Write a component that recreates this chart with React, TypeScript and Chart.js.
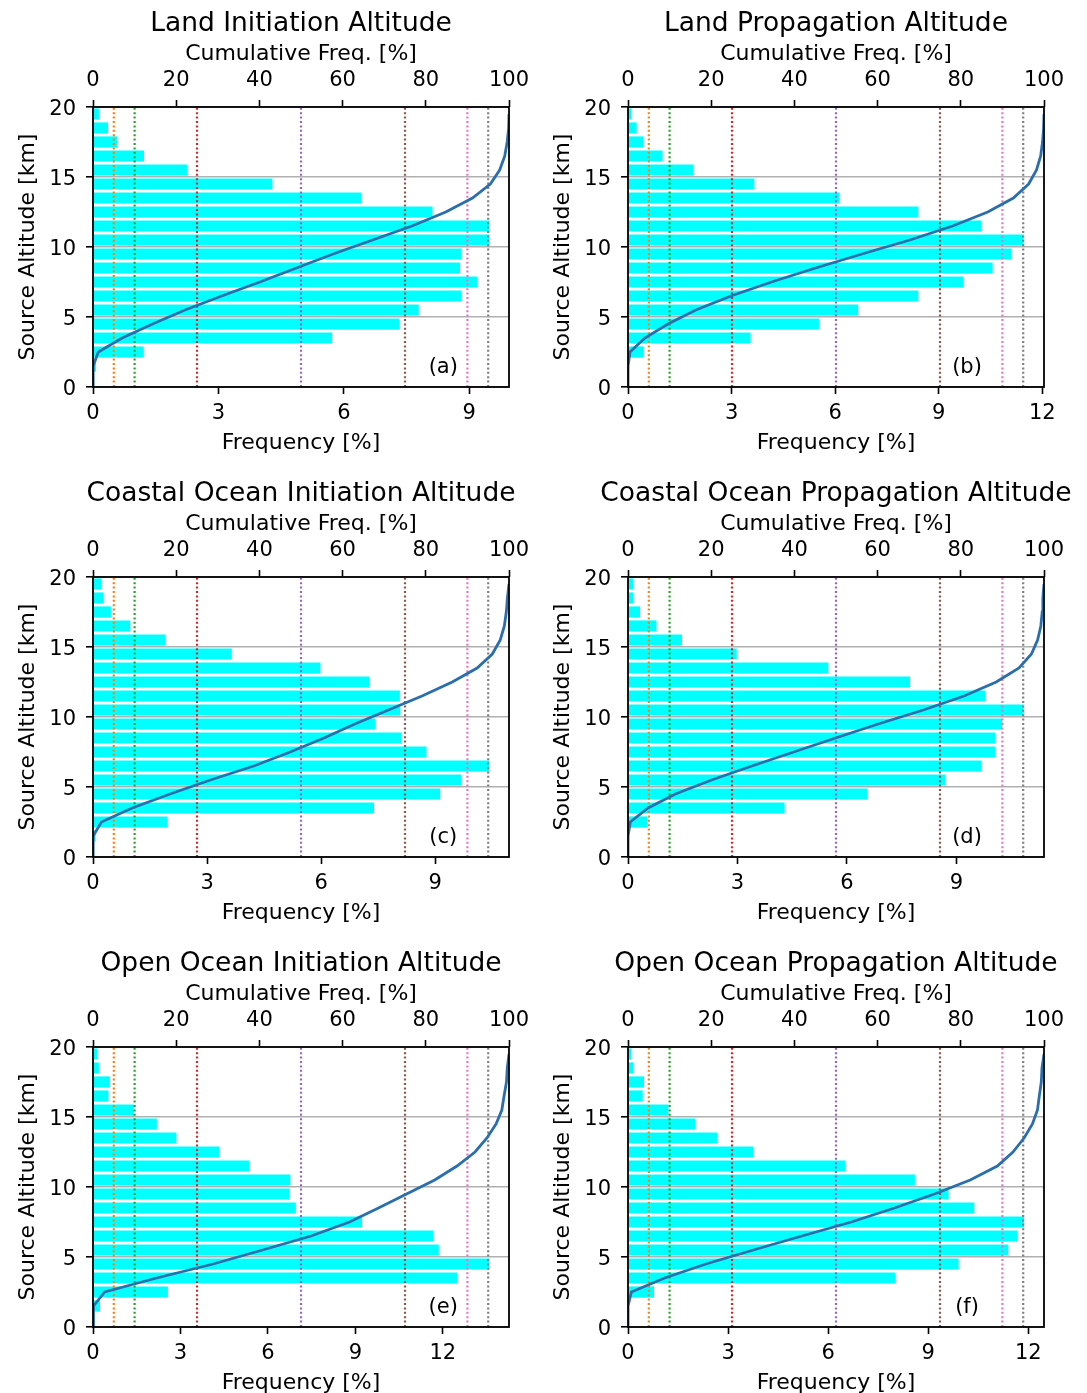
import React, { useEffect, useRef } from "react";
import { Chart, registerables } from "chart.js";

Chart.register(...registerables);
Chart.defaults.font.family = "'DejaVu Sans', sans-serif";

// ---------- data ----------
// altitude bin centers (km), bins 0-1 ... 19-20
const ALT_CENTERS = [0.5, 1.5, 2.5, 3.5, 4.5, 5.5, 6.5, 7.5, 8.5, 9.5, 10.5, 11.5, 12.5, 13.5, 14.5, 15.5, 16.5, 17.5, 18.5, 19.5];
// altitudes at which the cumulative curve is sampled (km)
const CUM_ALTS = [0, 0.5, 1.5, 2.5, 3.5, 4.5, 5.5, 6.5, 7.5, 8.5, 9.5, 10.5, 11.5, 12.5, 13.5, 14.5, 15.5, 16.5, 17.5, 18.5, 19.5];

const TITLES = [
  "Land Initiation Altitude",
  "Land Propagation Altitude",
  "Coastal Ocean Initiation Altitude",
  "Coastal Ocean Propagation Altitude",
  "Open Ocean Initiation Altitude",
  "Open Ocean Propagation Altitude",
];
const PANEL_LABELS = ["(a)", "(b)", "(c)", "(d)", "(e)", "(f)"];

// frequency [%] per 1 km bin, bottom (0-1 km) to top (19-20 km)
const FREQ_LAND_INIT = [0, 0.07, 1.21, 5.72, 7.32, 7.79, 8.82, 9.19, 8.78, 8.82, 9.48, 9.48, 8.12, 6.42, 4.29, 2.25, 1.22, 0.58, 0.36, 0.14];
const FREQ_LAND_PROP = [0, 0.02, 0.46, 3.55, 5.53, 6.67, 8.41, 9.72, 10.56, 11.11, 11.46, 10.24, 8.41, 6.13, 3.66, 1.89, 1.0, 0.44, 0.25, 0.1];
const FREQ_COAST_INIT = [0, 0.07, 1.95, 7.39, 9.13, 9.68, 10.42, 8.77, 8.11, 7.42, 8.08, 8.07, 7.27, 5.98, 3.65, 1.91, 0.98, 0.47, 0.27, 0.23];
const FREQ_COAST_PROP = [0, 0.02, 0.53, 4.29, 6.55, 8.7, 9.69, 10.06, 10.06, 10.25, 10.84, 9.79, 7.73, 5.49, 2.98, 1.48, 0.78, 0.33, 0.15, 0.14];
const FREQ_OPEN_INIT = [0, 0.24, 2.57, 12.49, 13.59, 11.86, 11.68, 9.23, 6.96, 6.75, 6.77, 5.36, 4.33, 2.86, 2.19, 1.4, 0.53, 0.58, 0.2, 0.14];
const FREQ_OPEN_PROP = [0, 0.03, 0.78, 8.01, 9.91, 11.4, 11.68, 11.87, 10.38, 9.61, 8.6, 6.52, 3.75, 2.67, 2.01, 1.21, 0.44, 0.48, 0.17, 0.1];

// cumulative frequency [%] at CUM_ALTS
const CUM_LAND_INIT = [0, 0, 0.07, 1.28, 7.0, 14.32, 22.11, 30.93, 40.12, 48.9, 57.72, 67.2, 76.68, 84.8, 91.22, 95.51, 97.76, 98.98, 99.56, 99.92, 100];
const CUM_LAND_PROP = [0, 0, 0.02, 0.48, 4.05, 9.6, 16.29, 24.74, 34.5, 45.1, 56.25, 67.76, 78.03, 86.48, 92.63, 96.3, 98.2, 99.2, 99.65, 99.9, 100];
const CUM_COAST_INIT = [0, 0, 0.07, 2.02, 9.41, 18.54, 28.22, 38.64, 47.41, 55.52, 62.94, 71.02, 79.09, 86.36, 92.34, 95.99, 97.9, 98.88, 99.35, 99.62, 100];
const CUM_COAST_PROP = [0, 0, 0.02, 0.55, 4.84, 11.39, 20.09, 29.78, 39.84, 49.9, 60.15, 70.99, 80.78, 88.51, 94.0, 96.98, 98.46, 99.24, 99.57, 99.72, 100];
const CUM_OPEN_INIT = [0, 0, 0.24, 2.81, 15.3, 28.89, 40.75, 52.43, 61.66, 68.62, 75.37, 82.14, 87.5, 91.83, 94.69, 96.88, 98.28, 98.81, 99.39, 99.59, 100];
const CUM_OPEN_PROP = [0, 0, 0.03, 0.81, 8.82, 18.73, 30.13, 41.81, 53.68, 64.06, 73.67, 82.27, 88.79, 92.54, 95.21, 97.22, 98.43, 98.87, 99.35, 99.52, 100];

// cumulative percentile markers (top axis, %)
const PERCENTILES = [5, 10, 25, 50, 75, 90, 95];
const PERCENTILE_COLORS = ["#ff7f0e", "#2ca02c", "#d62728", "#9467bd", "#8c564b", "#e377c2", "#7f7f7f"];

// bottom axis upper limits (frequency %)
const X_MAX = [9.95, 12.05, 10.94, 11.4, 14.27, 12.47];

const FREQS = [FREQ_LAND_INIT, FREQ_LAND_PROP, FREQ_COAST_INIT, FREQ_COAST_PROP, FREQ_OPEN_INIT, FREQ_OPEN_PROP];
const CUMS = [CUM_LAND_INIT, CUM_LAND_PROP, CUM_COAST_INIT, CUM_COAST_PROP, CUM_OPEN_INIT, CUM_OPEN_PROP];

// ---------- layout ----------
const ROW_H = 470;
const COL_LEFT = [0, 540];
const COL_W = [540, 547];
const Y_AXIS_W = [93, 88];
const PAD_RIGHT = [31, 43];
const LABEL_FRAC = [0.842, 0.815];

const FONT = "'DejaVu Sans', sans-serif";
const tickFont = { family: FONT, size: 21, lineHeight: 1 };
const yTickFont = { family: FONT, size: 21, lineHeight: "5px" };
const axisTitleFont = { family: FONT, size: 22, lineHeight: 1 };

const panelPlugin = {
  id: "panelDecor",
  afterDatasetsDraw(chart: any) {
    const { ctx, chartArea } = chart;
    const { left, top, right, bottom } = chartArea;
    ctx.save();
    ctx.strokeStyle = "#000";
    ctx.lineWidth = 1.8;
    ctx.strokeRect(left, top, right - left, bottom - top);
    ctx.restore();
  },
  afterDraw(chart: any, _args: any, opts: any) {
    const { ctx, chartArea } = chart;
    const { left, top, right, bottom } = chartArea;
    ctx.save();
    ctx.fillStyle = "#000";
    ctx.textAlign = "center";
    ctx.textBaseline = "middle";
    ctx.font = `26.5px ${FONT}`;
    ctx.fillText(opts.title, (left + right) / 2, 24.5);
    ctx.font = `21px ${FONT}`;
    ctx.fillText(opts.label, left + opts.labelFrac * (right - left), bottom - 0.075 * (bottom - top) + 2);
    ctx.restore();
  },
};

function Panel({ index }: { index: number }) {
  const ref = useRef<HTMLCanvasElement | null>(null);
  const col = index % 2;
  const row = Math.floor(index / 2);
  const width = COL_W[col];

  useEffect(() => {
    if (!ref.current) return;
    const freq = FREQS[index];
    const cum = CUMS[index];
    const yw = Y_AXIS_W[col];

    const datasets: any[] = [
      {
        type: "line",
        data: CUM_ALTS.map((y, k) => ({ x: cum[k], y })),
        xAxisID: "x2",
        yAxisID: "y",
        indexAxis: "y",
        borderColor: "#2a6fad",
        borderWidth: 2.8,
        pointRadius: 0,
        tension: 0,
        fill: false,
        order: 0,
      },
      ...PERCENTILES.map((p, k) => ({
        type: "line",
        data: [
          { x: p, y: 0 },
          { x: p, y: 20 },
        ],
        xAxisID: "x2",
        yAxisID: "y",
        indexAxis: "y",
        borderColor: PERCENTILE_COLORS[k],
        borderWidth: 2.2,
        borderDash: [2, 2.4],
        pointRadius: 0,
        fill: false,
        order: 1,
      })),
      {
        type: "bar",
        data: ALT_CENTERS.map((y, k) => ({ x: freq[k], y })),
        xAxisID: "x",
        yAxisID: "y",
        backgroundColor: "#00ffff",
        borderWidth: 0,
        categoryPercentage: 1,
        barPercentage: 0.8,
        order: 2,
      },
    ];

    const chart = new Chart(ref.current, {
      type: "bar",
      data: { datasets },
      options: {
        indexAxis: "y",
        animation: false,
        responsive: false,
        devicePixelRatio: 1,
        layout: { padding: { left: 0, right: PAD_RIGHT[col], top: 35, bottom: 0 } },
        plugins: {
          legend: { display: false },
          tooltip: { enabled: false },
          title: { display: false },
          panelDecor: { title: TITLES[index], label: PANEL_LABELS[index], labelFrac: LABEL_FRAC[col] },
        } as any,
        scales: {
          x: {
            type: "linear",
            position: "bottom",
            min: 0,
            max: X_MAX[index],
            offset: false,
            ticks: { stepSize: 3, includeBounds: false, color: "#000", font: tickFont, padding: 9, autoSkip: false, maxRotation: 0 },
            grid: { offset: false, drawOnChartArea: false, drawTicks: true, tickLength: 7, tickColor: "#000", tickWidth: 1.6 },
            border: { display: false },
            title: { display: true, text: "Frequency [%]", color: "#000", font: axisTitleFont, padding: { top: 0, bottom: 16 } },
            afterFit: (s: any) => {
              s.height = 83;
            },
          },
          x2: {
            type: "linear",
            position: "top",
            min: 0,
            max: 100,
            offset: false,
            ticks: { stepSize: 20, includeBounds: false, color: "#000", font: tickFont, padding: 8.5, autoSkip: false, maxRotation: 0 },
            grid: { offset: false, drawOnChartArea: false, drawTicks: true, tickLength: 7, tickColor: "#000", tickWidth: 1.6 },
            border: { display: false },
            title: { display: true, text: "Cumulative Freq. [%]", color: "#000", font: axisTitleFont, padding: { top: 8, bottom: 0 } },
            afterFit: (s: any) => {
              s.height = 72;
            },
          },
          y: {
            type: "linear",
            position: "left",
            min: 0,
            max: 20,
            offset: false,
            ticks: {
              stepSize: 5,
              color: "#000",
              font: yTickFont,
              padding: 10,
              autoSkip: false,
              callback: (v: any) => ["", String(v)],
            },
            grid: { offset: false, color: "#b0b0b0", lineWidth: 1.6, drawTicks: true, tickLength: 7, tickColor: "#000", tickWidth: 1.6 },
            border: { display: false },
            title: { display: true, text: "Source Altitude [km]", color: "#000", font: axisTitleFont, padding: { top: yw - 65 - 11, bottom: 0 } },
            afterFit: (s: any) => {
              s.width = yw;
            },
          },
        },
      } as any,
      plugins: [panelPlugin],
    });
    return () => chart.destroy();
  }, [index, col]);

  return (
    <canvas
      ref={ref}
      width={width}
      height={ROW_H}
      style={{ position: "absolute", left: COL_LEFT[col], top: row * ROW_H, width, height: ROW_H, display: "block" }}
    />
  );
}

export default function App() {
  return (
    <div style={{ position: "absolute", left: 0, top: 0, width: 1087, height: 1393, overflow: "hidden", background: "#fff" }}>
      {[0, 1, 2, 3, 4, 5].map((i) => (
        <Panel key={i} index={i} />
      ))}
    </div>
  );
}
